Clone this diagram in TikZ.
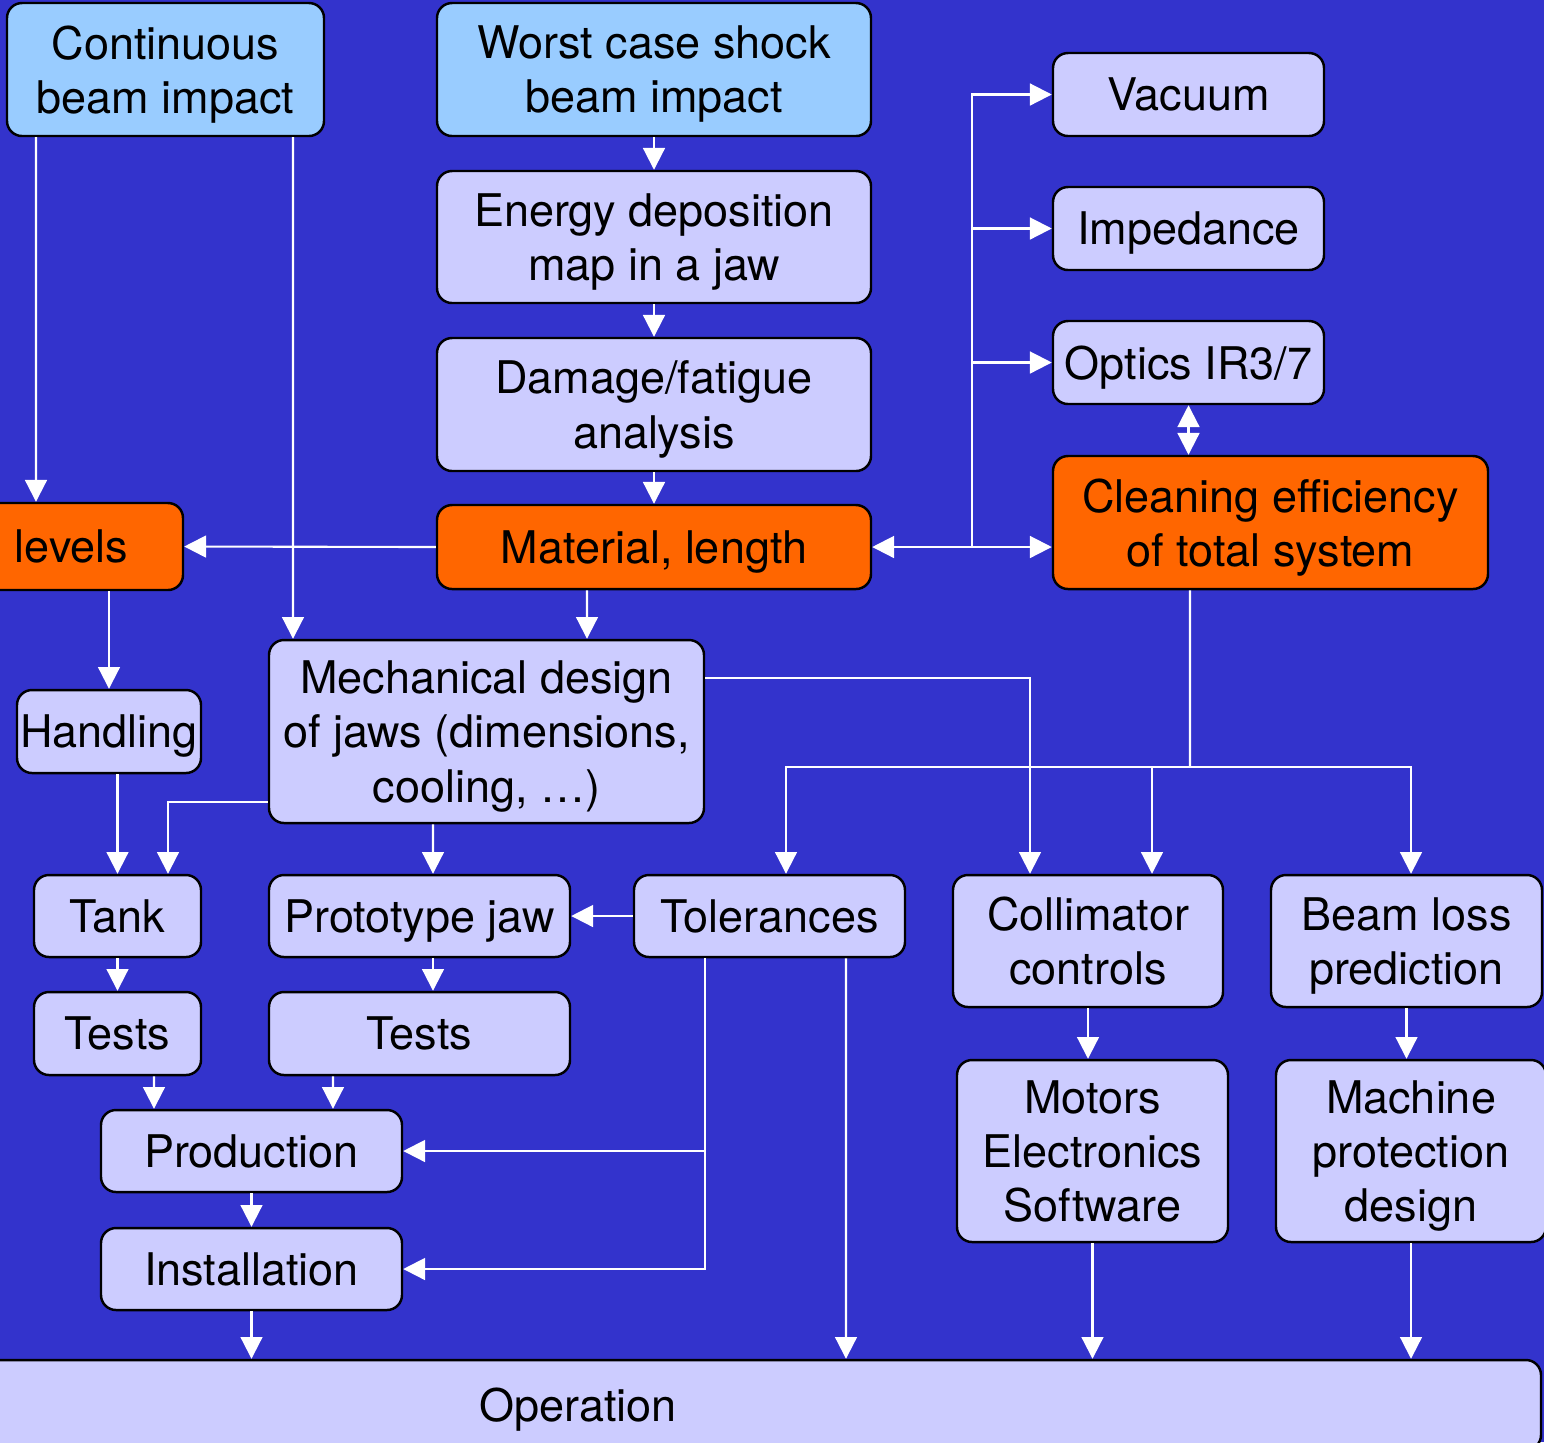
\documentclass[tikz,border=0pt]{standalone}
\usepackage{fontspec}
\setmainfont{TeX Gyre Heros}
\usepackage{tikz}
\usetikzlibrary{positioning, calc, arrows.meta}

\definecolor{bgblue}{RGB}{51,51,204}
\definecolor{paleblue}{RGB}{204,204,255}
\definecolor{skyblue}{RGB}{153,204,255}
\definecolor{hotorange}{RGB}{255,102,0}

\begin{document}
\begin{tikzpicture}[>={Triangle[width=6.2pt,length=6.2pt]},
    box/.style={draw=black, line width=0.7pt, rounded corners=0.15cm, fill=paleblue,
        align=center, inner sep=0pt, text depth=0pt, font=\fontsize{12.8}{15.4}\selectfont},
    topbox/.style={box, fill=skyblue},
    keybox/.style={box, fill=hotorange},
    flow/.style={->, white, line width=0.6pt},
    both/.style={<->, white, line width=0.6pt},
    wire/.style={white, line width=0.6pt}]

    % Background and frame
    \path[use as bounding box, fill=bgblue] (0,0) rectangle (15.44,-14.42);

    % Starting points
    \node[topbox, minimum width=3.17cm, minimum height=1.33cm] (cont) at (1.655,-0.695) {Continuous\\beam impact};
    \node[topbox, minimum width=4.34cm, minimum height=1.33cm] (worst) at (6.54,-0.695) {Worst case shock\\beam impact};

    % Middle column
    \node[box, minimum width=4.34cm, minimum height=1.32cm] (energy) at (6.54,-2.37) {Energy deposition\\map in a jaw};
    \node[box, minimum width=4.34cm, minimum height=1.33cm] (damage) at (6.54,-4.045) {Damage/fatigue\\analysis};
    \node[keybox, minimum width=4.34cm, minimum height=0.84cm] (material) at (6.54,-5.47) {Material, length};
    \node[keybox, minimum width=2.23cm, minimum height=0.87cm] (levels) at (0.715,-5.465) {levels};

    % Right column
    \node[box, minimum width=2.71cm, minimum height=0.83cm] (vacuum) at (11.885,-0.945) {Vacuum};
    \node[box, minimum width=2.71cm, minimum height=0.83cm] (impedance) at (11.885,-2.285) {Impedance};
    \node[box, minimum width=2.71cm, minimum height=0.83cm] (optics) at (11.885,-3.625) {Optics IR3/7};
    \node[keybox, minimum width=4.35cm, minimum height=1.33cm] (cleaning) at (12.705,-5.225) {Cleaning efficiency\\of total system};

    % Design and hardware
    \node[box, minimum width=4.35cm, minimum height=1.83cm] (mech) at (4.865,-7.315) {Mechanical design\\of jaws (dimensions,\\cooling, \dots)};
    \node[box, minimum width=1.84cm, minimum height=0.83cm] (handling) at (1.09,-7.315) {Handling};
    \node[box, minimum width=1.67cm, minimum height=0.82cm] (tank) at (1.175,-9.16) {Tank};
    \node[box, minimum width=1.67cm, minimum height=0.83cm] (tests1) at (1.175,-10.335) {Tests};
    \node[box, minimum width=3.01cm, minimum height=0.82cm] (proto) at (4.195,-9.16) {Prototype jaw};
    \node[box, minimum width=3.01cm, minimum height=0.83cm] (tests2) at (4.195,-10.335) {Tests};
    \node[box, minimum width=2.71cm, minimum height=0.82cm] (tol) at (7.695,-9.16) {Tolerances};
    \node[box, minimum width=3.01cm, minimum height=0.82cm] (production) at (2.515,-11.51) {Production};
    \node[box, minimum width=3.01cm, minimum height=0.82cm] (installation) at (2.515,-12.69) {Installation};

    % Controls and protection
    \node[box, minimum width=2.70cm, minimum height=1.32cm] (collctrl) at (10.88,-9.41) {Collimator\\controls};
    \node[box, minimum width=2.71cm, minimum height=1.32cm] (beamloss) at (14.065,-9.41) {Beam loss\\prediction};
    \node[box, minimum width=2.71cm, minimum height=1.82cm] (motors) at (10.925,-11.51) {Motors\\Electronics\\Software};
    \node[box, minimum width=2.70cm, minimum height=1.82cm] (machine) at (14.11,-11.51) {Machine\\protection\\design};

    % Operation bar
    \node[box, minimum width=19.26cm, minimum height=0.90cm] (operation) at (5.78,-14.05) {Operation};

    % Junction points
    \coordinate (hub) at (9.72,-5.47);
    \coordinate (split) at (11.90,-7.67);

    % Top-down chain
    \draw[flow] ([xshift=-12.95mm]cont.south) -- ([xshift=-3.55mm]levels.north);
    \draw[flow] ([xshift=12.75mm]cont.south) -- ([xshift=-19.35mm]mech.north);
    \draw[flow] (worst.south) -- (energy.north);
    \draw[flow] (energy.south) -- (damage.north);
    \draw[flow] (damage.south) -- (material.north);
    \draw[flow] (material.west) -- (levels.east);
    \draw[flow] ([xshift=-6.7mm]material.south) -- ([xshift=10.05mm]mech.north);

    % Links to the right column
    \draw[both] (material.east) -- (material.east -| cleaning.west);
    \draw[flow] (hub) |- (vacuum.west);
    \draw[flow] (hub) |- (impedance.west);
    \draw[flow] (hub) |- (optics.west);
    \draw[both] (optics.south) -- (optics.south |- cleaning.north);

    % Left branch
    \draw[flow] (handling.north |- levels.south) -- (handling.north);
    \draw[flow] (tank.north |- handling.south) -- (tank.north);
    \draw[flow] ([yshift=-7.05mm]mech.west) -| ([xshift=5.05mm]tank.north);
    \draw[flow] ([xshift=-5.35mm]mech.south) -- ([xshift=1.35mm]proto.north);
    \draw[flow] ([yshift=5.35mm]mech.east) -| ([xshift=-5.8mm]collctrl.north);

    % From cleaning efficiency
    \draw[wire] ([xshift=-8.05mm]cleaning.south) -- (split);
    \draw[flow] (split) -| ([xshift=1.65mm]tol.north);
    \draw[flow] (split) -| ([xshift=6.4mm]collctrl.north);
    \draw[flow] (split) -| ([xshift=0.45mm]beamloss.north);

    % Hardware chain
    \draw[flow] (tol.west) -- (proto.east);
    \draw[flow] (tank.south) -- (tests1.north);
    \draw[flow] ([xshift=1.35mm]proto.south) -- ([xshift=1.35mm]tests2.north);
    \draw[flow] ([xshift=3.65mm]tests1.south) -- ([xshift=-9.75mm]production.north);
    \draw[flow] ([xshift=-8.65mm]tests2.south) -- ([xshift=8.15mm]production.north);
    \draw[flow] ([xshift=-6.45mm]tol.south) |- (production.east);
    \draw[flow] ([xshift=-6.45mm]tol.south) |- (installation.east);
    \draw[flow] (production.south) -- (installation.north);

    % Into operation
    \draw[flow] (installation.south) -- (installation.south |- operation.north);
    \draw[flow] ([xshift=7.65mm]tol.south) -- ([xshift=26.8mm]operation.north);
    \draw[flow] (collctrl.south) -- (collctrl.south |- motors.north);
    \draw[flow] (beamloss.south) -- (beamloss.south |- machine.north);
    \draw[flow] (motors.south) -- (motors.south |- operation.north);
    \draw[flow] (machine.south) -- (machine.south |- operation.north);
\end{tikzpicture}
\end{document}
